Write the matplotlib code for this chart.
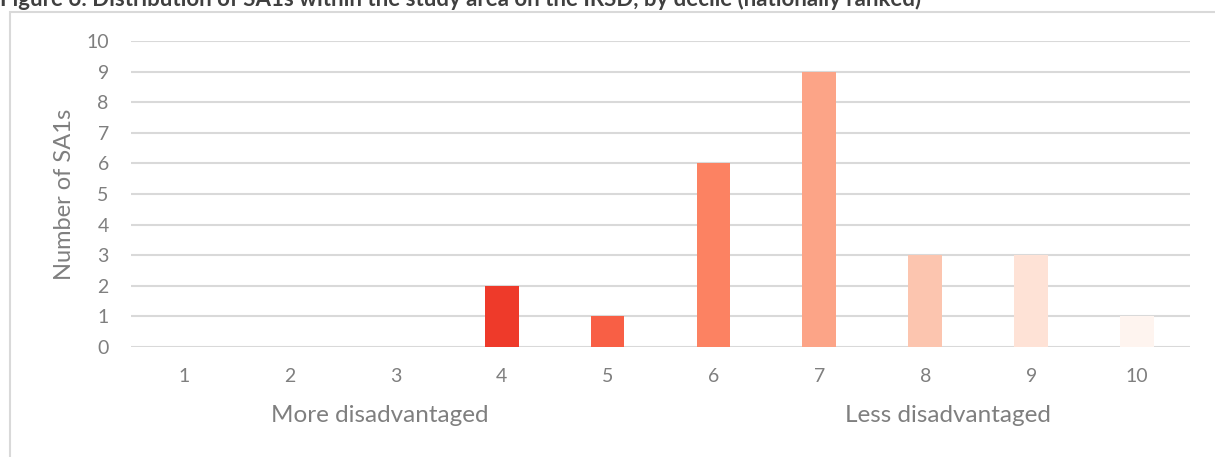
import matplotlib.pyplot as plt
from matplotlib.patches import Rectangle

# Distribution of SA1s by IRSD decile
deciles = ["1", "2", "3", "4", "5", "6", "7", "8", "9", "10"]
counts = [0, 0, 0, 2, 1, 6, 9, 3, 3, 1]
bar_colors = ["#FFF5F0", "#FFF5F0", "#FFF5F0", "#EE3A2A", "#F85F45",
              "#FC8262", "#FCA487", "#FCC5AF", "#FEE2D6", "#FEF4EF"]

title = "Figure 6: Distribution of SA1s within the study area on the IRSD, by decile (nationally ranked)"
ylabel = "Number of SA1s"
left_note = "More disadvantaged"
right_note = "Less disadvantaged"

plt.rcParams['font.family'] = ['Lato', 'DejaVu Sans']
text_grey = "#7F7F7F"
grid_grey = "#D9D9D9"

fig = plt.figure(figsize=(12.15, 4.57), dpi=100)
ax = fig.add_axes([131 / 1215, 110 / 457, 1059 / 1215, 306 / 457])

x = range(len(deciles))
ax.bar(x, counts, width=0.32, color=bar_colors, zorder=3)

ax.set_xlim(-0.5, len(deciles) - 0.5)
ax.set_ylim(0, 10)
ax.set_yticks(range(0, 11))
ax.set_xticks(list(x))
ax.set_xticklabels(deciles)
ax.yaxis.grid(True, color=grid_grey, linewidth=1.5, zorder=0)
ax.tick_params(length=0, labelsize=14, colors=text_grey)
ax.tick_params(axis='y', pad=16)
ax.tick_params(axis='x', pad=15)
for s in ax.spines.values():
    s.set_visible(False)
ax.set_ylabel(ylabel, fontsize=17, color=text_grey, labelpad=8)

# group notes under the axis
fig.text(380 / 1215, 1 - 416 / 457, left_note, ha='center', va='center',
         fontsize=17.5, color=text_grey)
fig.text(948 / 1215, 1 - 416 / 457, right_note, ha='center', va='center',
         fontsize=17.5, color=text_grey)

# chart border and the caption, clipped at the top as in the source
fig.patches.append(Rectangle((10 / 1215, -0.1), 1.2, (457 - 12) / 457 + 0.1,
                             transform=fig.transFigure, fill=False,
                             edgecolor=grid_grey, linewidth=1.5))
fig.text(0, 1 - 6 / 457, title, ha='left', va='baseline',
         fontsize=16, fontweight='bold', color="#404040")

fig.savefig("out.png", dpi=100)
